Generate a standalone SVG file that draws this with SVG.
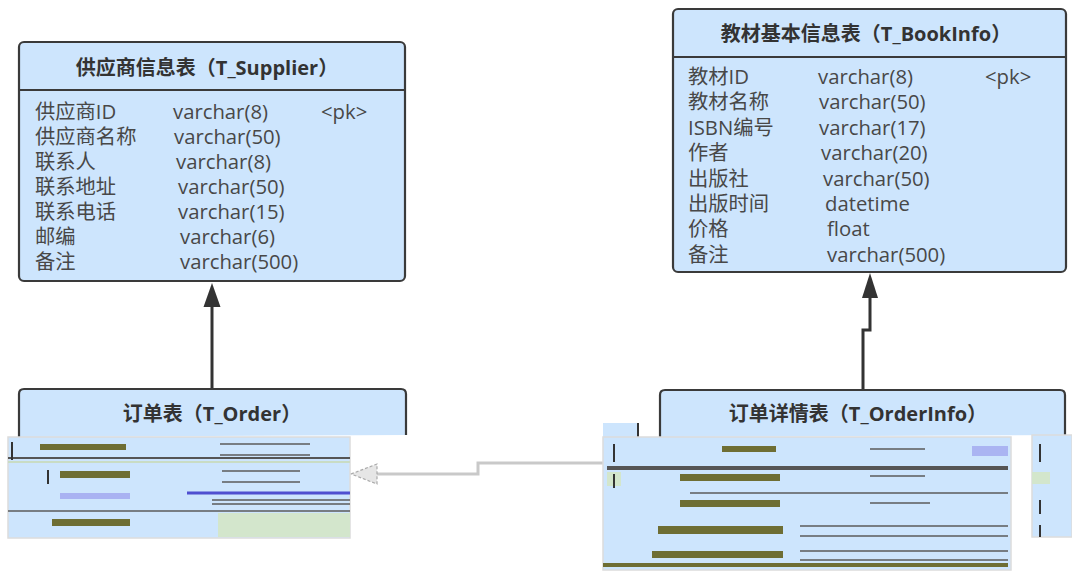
<svg xmlns="http://www.w3.org/2000/svg" width="1072" height="577" viewBox="0 0 1072 577">
<defs>
<style>
.box{fill:#cde5fd;stroke:#3a3a3a;stroke-width:2.2}
.div{stroke:#3a3a3a;stroke-width:2.2}
.ttl{font-family:"Open Sans","Noto Sans CJK SC",sans-serif;font-size:20px;font-weight:bold;fill:#333;text-anchor:middle}
.row{font-family:"Open Sans","Noto Sans CJK SC",sans-serif;font-size:20.3px;fill:#484848}
.conn{fill:none;stroke:#333;stroke-width:3}
.glitch{fill:#cde5fd;stroke:#dcdcdc;stroke-width:1.5}
.olive{fill:#6e6e34}
.gl{stroke:#5a5a5a;stroke-width:1.5}
</style>
</defs>
<rect width="1072" height="577" fill="#fff"/>

<g id="connectors">
<line class="conn" x1="212" y1="389" x2="212" y2="305"/>
<path d="M212,283 L220.5,307 L203.5,307 Z" fill="#333"/>
<path class="conn" d="M863,390 V330 H870 V298"/>
<path d="M870,273 L878,298 L862,298 Z" fill="#333"/>
<path d="M607,463 H478 V474 H375" fill="none" stroke="#c9c9c9" stroke-width="3"/>
<path d="M351,474 L377,464 L377,484 Z" fill="#e6e6e6" stroke="#aaa" stroke-width="1.2" stroke-dasharray="3,2"/>
</g>

<g id="T_Supplier">
<rect class="box" x="19" y="42" width="386" height="239" rx="5"/>
<line class="div" x1="19" y1="90" x2="405" y2="90"/>
<text class="ttl" x="207" y="75">供应商信息表（T_Supplier）</text>
<text class="row" x="35" y="119">供应商ID</text><text class="row" x="173" y="119">varchar(8)</text><text class="row" x="321" y="119">&lt;pk&gt;</text>
<text class="row" x="35" y="144">供应商名称</text><text class="row" x="174" y="144">varchar(50)</text>
<text class="row" x="35" y="169">联系人</text><text class="row" x="176" y="169">varchar(8)</text>
<text class="row" x="35" y="194">联系地址</text><text class="row" x="178" y="194">varchar(50)</text>
<text class="row" x="35" y="219">联系电话</text><text class="row" x="178" y="219">varchar(15)</text>
<text class="row" x="35" y="244">邮编</text><text class="row" x="180" y="244">varchar(6)</text>
<text class="row" x="35" y="269">备注</text><text class="row" x="180" y="269">varchar(500)</text>
</g>

<g id="T_BookInfo">
<rect class="box" x="673" y="9" width="393" height="263" rx="5"/>
<line class="div" x1="673" y1="57" x2="1066" y2="57"/>
<text class="ttl" x="866" y="41">教材基本信息表（T_BookInfo）</text>
<text class="row" x="688" y="84">教材ID</text><text class="row" x="818" y="84">varchar(8)</text><text class="row" x="985" y="84">&lt;pk&gt;</text>
<text class="row" x="688" y="109">教材名称</text><text class="row" x="819" y="109">varchar(50)</text>
<text class="row" x="688" y="135">ISBN编号</text><text class="row" x="819" y="135">varchar(17)</text>
<text class="row" x="688" y="160">作者</text><text class="row" x="821" y="160">varchar(20)</text>
<text class="row" x="688" y="186">出版社</text><text class="row" x="823" y="186">varchar(50)</text>
<text class="row" x="688" y="211">出版时间</text><text class="row" x="825" y="211">datetime</text>
<text class="row" x="688" y="236">价格</text><text class="row" x="827" y="236">float</text>
<text class="row" x="688" y="262">备注</text><text class="row" x="827" y="262">varchar(500)</text>
</g>

<g id="T_Order">
<path class="box" d="M19,437 V394 Q19,389 24,389 H401 Q406,389 406,394 V435"/>
<text class="ttl" x="212" y="421">订单表（T_Order）</text>
<rect class="glitch" x="8" y="437" width="342" height="101"/>
<rect x="218" y="513" width="132" height="24" fill="#d3e6cc"/>
<rect class="olive" x="40" y="444" width="86" height="6"/>
<rect class="olive" x="60" y="471" width="70" height="7"/>
<rect x="60" y="493" width="70" height="6" fill="#a9b2f2"/>
<rect class="olive" x="52" y="519" width="78" height="7"/>
<line x1="8" y1="458" x2="350" y2="458" stroke="#555" stroke-width="2"/>
<line x1="8" y1="462" x2="350" y2="462" stroke="#c9dcc4" stroke-width="2"/>
<line x1="187" y1="493" x2="350" y2="493" stroke="#4f4fd0" stroke-width="3"/>
<line class="gl" x1="212" y1="500" x2="350" y2="500"/>
<line class="gl" x1="212" y1="504" x2="350" y2="504"/>
<line class="gl" x1="8" y1="511" x2="350" y2="511"/>
<line class="gl" x1="220" y1="444" x2="310" y2="444"/>
<line class="gl" x1="220" y1="455" x2="310" y2="455"/>
<line class="gl" x1="222" y1="471" x2="300" y2="471"/>
<line class="gl" x1="222" y1="482" x2="300" y2="482"/>
<line x1="12" y1="442" x2="12" y2="460" stroke="#333" stroke-width="2"/>
<line x1="48" y1="470" x2="48" y2="484" stroke="#333" stroke-width="2"/>
</g>

<g id="T_OrderInfo">
<path class="box" d="M660,437 V395 Q660,390 665,390 H1060 Q1065,390 1065,395 V435"/>
<text class="ttl" x="858" y="421">订单详情表（T_OrderInfo）</text>
<rect x="603" y="423" width="35" height="14" fill="#cde5fd"/>
<line x1="638" y1="423" x2="638" y2="437" stroke="#333" stroke-width="2"/>
<rect class="glitch" x="603" y="437" width="408" height="133"/>
<rect x="1032" y="435" width="40" height="102" fill="#cde5fd" stroke="#dcdcdc" stroke-width="1.5"/>
<rect x="1032" y="472" width="18" height="12" fill="#d3e6cc"/>
<rect x="607" y="466" width="401" height="4" fill="#555"/>
<rect x="607" y="472" width="14" height="14" fill="#d3e6cc"/>
<rect class="olive" x="722" y="446" width="54" height="6"/>
<rect class="olive" x="680" y="474" width="100" height="7"/>
<rect class="olive" x="680" y="500" width="100" height="7"/>
<rect class="olive" x="658" y="526" width="125" height="8"/>
<rect class="olive" x="652" y="551" width="131" height="7"/>
<rect class="olive" x="603" y="563" width="405" height="4"/>
<rect x="972" y="446" width="36" height="10" fill="#aab4f2"/>
<line class="gl" x1="870" y1="449" x2="925" y2="449"/>
<line class="gl" x1="870" y1="476" x2="925" y2="476"/>
<line class="gl" x1="870" y1="503" x2="930" y2="503"/>
<line class="gl" x1="800" y1="526" x2="1008" y2="526"/>
<line class="gl" x1="800" y1="536" x2="1008" y2="536"/>
<line class="gl" x1="800" y1="551" x2="1008" y2="551"/>
<line class="gl" x1="800" y1="560" x2="1008" y2="560"/>
<line class="gl" x1="690" y1="493" x2="1008" y2="493"/>
<line x1="614" y1="444" x2="614" y2="462" stroke="#333" stroke-width="2"/>
<line x1="614" y1="474" x2="614" y2="488" stroke="#333" stroke-width="2"/>
<line x1="1040" y1="444" x2="1040" y2="462" stroke="#333" stroke-width="2"/>
<line x1="1040" y1="500" x2="1040" y2="514" stroke="#333" stroke-width="2"/>
<line x1="1040" y1="525" x2="1040" y2="537" stroke="#333" stroke-width="2"/>
</g>
</svg>
